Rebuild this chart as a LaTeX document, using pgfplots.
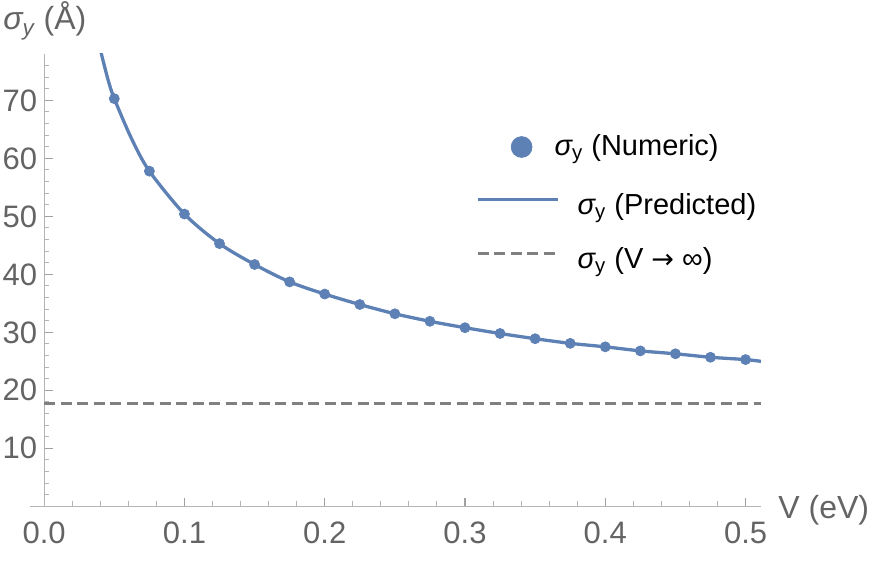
\documentclass[border=0pt]{standalone}
\usepackage{fontspec}
\setmainfont{Liberation Sans}
\newfontfamily\dejavu{DejaVu Sans}
\usepackage{pgfplots}
\pgfplotsset{compat=1.18}
\definecolor{mblue}{RGB}{94,129,181}
\definecolor{mgray}{RGB}{128,128,128}
\definecolor{axgray}{RGB}{180,180,180}
\definecolor{tkgray}{RGB}{160,160,160}
\definecolor{txtgray}{RGB}{100,100,100}
\pgfplotsset{
  legmark/.style={legend image code/.code={\draw[##1, mark size=5.2pt] plot coordinates {(22pt,4pt)};}},
  legline/.style={legend image code/.code={\draw[##1] (0pt,7.3pt) -- (40pt,7.3pt);}},
}
\begin{document}
\begin{tikzpicture}
\path[use as bounding box] (0,0) rectangle (437.5pt,281pt);
\begin{axis}[
  at={(15pt,27.85pt)}, anchor=south west,
  scale only axis, width=365.5pt, height=226.15pt,
  xmin=-0.0101, xmax=0.511, ymin=0, ymax=78,
  axis lines=middle,
  axis line style={-, draw=axgray, line width=0.6pt},
  hide obscured x ticks=false, hide obscured y ticks=false,
  tick align=inside,
  xtick={0,0.1,0.2,0.3,0.4,0.5},
  xticklabels={0.0,0.1,0.2,0.3,0.4,0.5},
  minor xtick={0.02,0.04,0.06,0.08,0.12,0.14,0.16,0.18,0.22,0.24,0.26,0.28,0.32,0.34,0.36,0.38,0.42,0.44,0.46,0.48},
  ytick={10,20,30,40,50,60,70},
  yticklabels={10,20,30,40,50,60,70},
  minor ytick={2,4,6,8,12,14,16,18,22,24,26,28,32,34,36,38,42,44,46,48,52,54,56,58,62,64,66,68,72,74,76},
  major tick length=4.3pt, minor tick length=2.6pt,
  every major tick/.style={draw=tkgray, line width=0.6pt},
  every minor tick/.style={draw=axgray, line width=0.5pt},
  xticklabel style={font=\fontsize{15.5}{18}\selectfont, text=txtgray, anchor=north, inner sep=0pt, yshift=-7.5pt},
  yticklabel style={font=\fontsize{15.5}{18}\selectfont, text=txtgray, anchor=east, inner sep=0pt, xshift=-3.3pt},
  xlabel={V (eV)},
  ylabel={{\itshape σ}\textsubscript{\itshape y} (Å)},
  every axis x label/.style={at={(axis cs:0.511,0)}, anchor=west, inner sep=0pt, xshift=8.5pt, yshift=-1.8pt, font=\fontsize{16}{19}\selectfont, text=txtgray},
  every axis y label/.style={at={(axis cs:-0.0294,83.7)}, anchor=west, inner sep=0pt, font=\fontsize{16}{19}\selectfont, text=txtgray},
  clip=true,
  legend style={at={(rel axis cs:0.6101,0.8386)}, anchor=north west, draw=none, fill=none,
    inner sep=0pt, outer sep=0pt,
    font=\fontsize{14.5}{17}\selectfont, text=black,
    cells={anchor=base west},
    nodes={inner sep=0pt, outer sep=0pt, text depth=, text height=},
    row sep=0pt, column sep=0pt},
]
\addplot[only marks, mark=*, mark size=2.5pt, color=mblue, legmark]
  coordinates {
  (0.050,70.3) (0.075,57.8) (0.100,50.4) (0.125,45.3) (0.150,41.7)
  (0.175,38.7) (0.200,36.6) (0.225,34.8) (0.250,33.2) (0.275,31.9)
  (0.300,30.8) (0.325,29.8) (0.350,28.9) (0.375,28.1) (0.400,27.5)
  (0.425,26.8) (0.450,26.3) (0.475,25.7) (0.500,25.3)
  };
\addlegendentry{\rule[-9.5pt]{0pt}{23.5pt}\hspace{-2.3pt}{\itshape σ}\textsubscript{y}\ (Numeric)}
\addplot[smooth, color=mblue, line width=1.65pt, legline]
  coordinates {
  (0.0404,78.4) (0.0456,73.5) (0.050,70.3) (0.0623,63.4) (0.075,57.8) (0.100,50.4) (0.125,45.3) (0.150,41.7)
  (0.175,38.7) (0.200,36.6) (0.225,34.8) (0.250,33.2) (0.275,31.9)
  (0.300,30.8) (0.325,29.8) (0.350,28.9) (0.375,28.1) (0.400,27.5)
  (0.425,26.8) (0.450,26.3) (0.475,25.7) (0.500,25.3) (0.511,25.0)
  };
\addlegendentry{\rule[-3.5pt]{0pt}{23.5pt}\hspace{9.2pt}{\itshape σ}\textsubscript{y}\ (Predicted)}
\addplot[color=mgray, line width=1.5pt, dash pattern=on 5.5pt off 2.75pt, legline]
  coordinates {(0,17.76) (0.511,17.76)};
\addlegendentry{\rule[-3.5pt]{0pt}{26.5pt}\hspace{9.2pt}{\itshape σ}\textsubscript{y}\ (V {\dejavu\fontsize{13.5}{16}\selectfont →} ∞)}
\end{axis}
\end{tikzpicture}
\end{document}
